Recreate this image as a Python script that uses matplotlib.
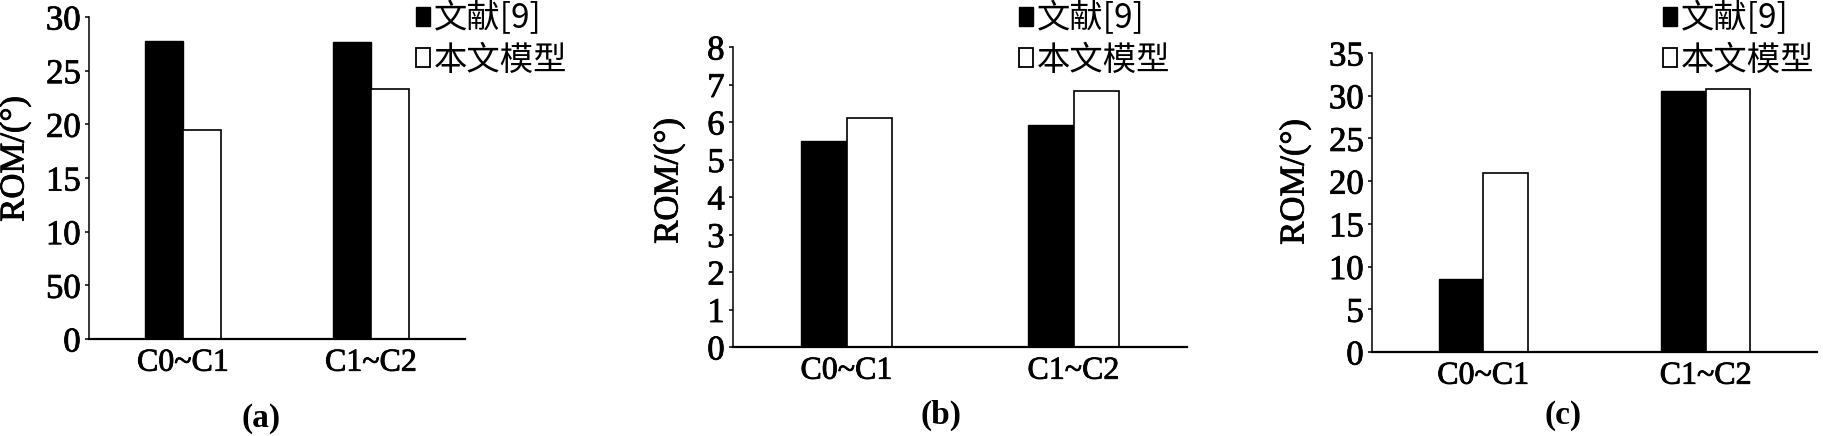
import matplotlib
matplotlib.use("Agg")
import matplotlib.pyplot as plt
import matplotlib.patheffects as pe
from matplotlib.patches import Patch

plt.rcParams['font.family'] = ['Liberation Serif', 'DejaVu Serif']

categories = ["C0~C1", "C1~C2"]
series_names = ["文献[9]", "本文模型"]

ref_a = [27.8, 27.7]
model_a = [19.5, 23.3]
ref_b = [5.5, 5.93]
model_b = [6.12, 6.82]
ref_c = [8.6, 30.6]
model_c = [20.9, 30.8]

yticks_a = [0, 5, 10, 15, 20, 25, 30]
yticklabels_a = ["0", "50", "10", "15", "20", "25", "30"]
yticks_b = [0, 1, 2, 3, 4, 5, 6, 7, 8]
yticks_c = [0, 5, 10, 15, 20, 25, 30, 35]
panel_labels = ["(a)", "(b)", "(c)"]

W, H = 1823, 436
fig = plt.figure(figsize=(W / 100, H / 100), dpi=100)
heavy = [pe.withStroke(linewidth=0.6, foreground="black")]

def rect(l, r, t, b):
    return [l / W, 1 - b / H, (r - l) / W, (b - t) / H]

panels = [
    dict(rect=rect(89, 465, 17, 339), ref=ref_a, model=model_a, ylim=30,
         yticks=yticks_a, ylabels=yticklabels_a, ylab=(15, 159), leg=(416, 1), lab=(261, 418)),
    dict(rect=rect(733, 1187, 47, 347), ref=ref_b, model=model_b, ylim=8,
         yticks=yticks_b, ylabels=[str(v) for v in yticks_b], ylab=(669, 181), leg=(1019, 1), lab=(941, 415)),
    dict(rect=rect(1372, 1817, 53, 352), ref=ref_c, model=model_c, ylim=35,
         yticks=yticks_c, ylabels=[str(v) for v in yticks_c], ylab=(1295, 182), leg=(1663, 1), lab=(1563, 415)),
]

x = [0, 1]
w = 0.2
for i, p in enumerate(panels):
    ax = fig.add_axes(p["rect"])
    ax.bar([v - w / 2 for v in x], p["ref"], width=w, color="black", edgecolor="black", linewidth=1.0)
    ax.bar([v + w / 2 for v in x], p["model"], width=w, color="white", edgecolor="black", linewidth=1.2)
    ax.set_xlim(-0.5, 1.5)
    ax.set_ylim(0, p["ylim"])
    ax.set_xticks(x)
    ax.set_xticklabels(categories, fontsize=23)
    ax.set_yticks(p["yticks"])
    ax.set_yticklabels(p["ylabels"], fontsize=25)
    ax.tick_params(axis="x", length=0, pad=7)
    ax.tick_params(axis="y", length=3, width=1.1, pad=3, direction="out")
    for t in ax.get_xticklabels() + ax.get_yticklabels():
        t.set_path_effects(heavy)
    for s in ["top", "right"]:
        ax.spines[s].set_visible(False)
    ax.spines["left"].set_linewidth(1.1)
    ax.spines["bottom"].set_linewidth(1.6)
    ax.set_ylabel("ROM/(°)", fontsize=25, va="center", path_effects=heavy)
    lx, ly = p["ylab"]
    l, b, wd, ht = p["rect"]
    ax.yaxis.set_label_coords((lx / W - l) / wd, ((1 - ly / H) - b) / ht)
    handles = [Patch(facecolor="black", edgecolor="black", linewidth=1.0),
               Patch(facecolor="white", edgecolor="black", linewidth=1.3)]
    gx, gy = p["leg"]
    ax.legend(handles, series_names, loc="upper left", bbox_to_anchor=(gx / W, 1 - gy / H),
              bbox_transform=fig.transFigure, frameon=False, borderpad=0, borderaxespad=0,
              handlelength=0.42, handleheight=0.5, handletextpad=0.12, labelspacing=0.2,
              prop={"family": ["Noto Sans CJK SC", "DejaVu Sans"], "size": 24})
    tx, ty = p["lab"]
    fig.text(tx / W, 1 - ty / H, panel_labels[i], ha="center", va="center", fontsize=24, fontweight="bold")

fig.savefig("out.png", dpi=100)
